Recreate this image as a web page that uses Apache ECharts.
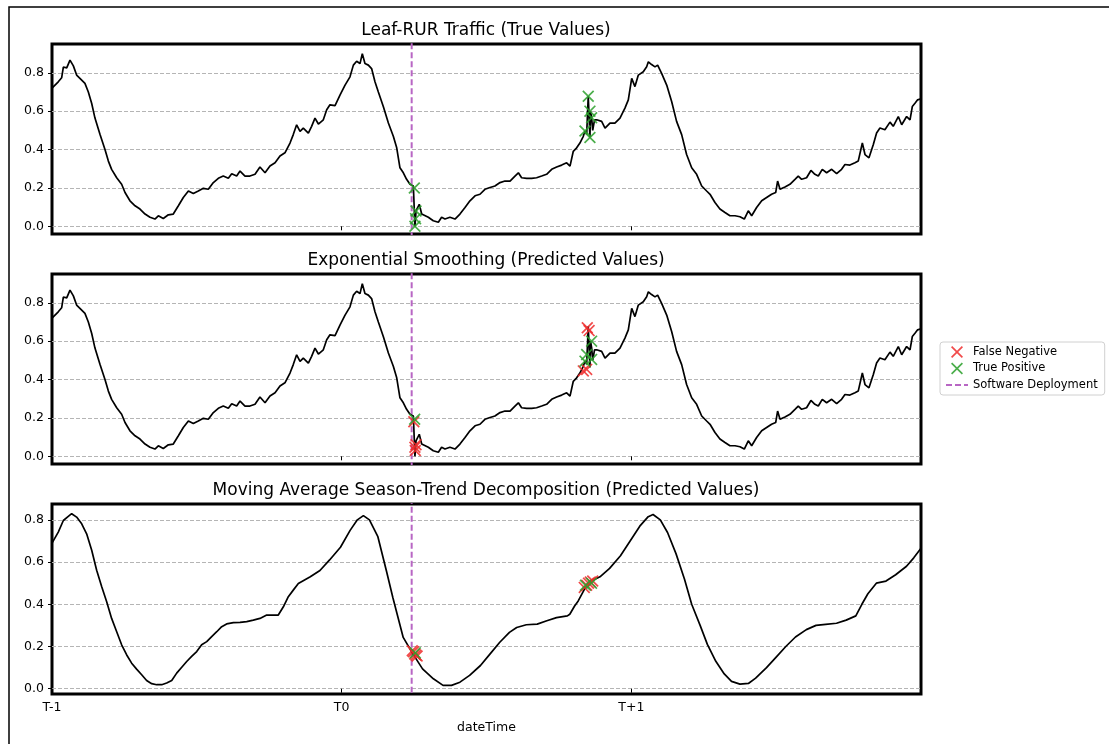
<!DOCTYPE html>
<html><head><meta charset="utf-8">
<script src="https://cdn.jsdelivr.net/npm/echarts@6/dist/echarts.min.js"></script>
<style>html,body{margin:0;padding:0;background:#fff}#c{width:1109px;height:744px}</style>
</head><body><div id="c"></div>
<script>
// ---------- data ----------
const panelTitles = ['Leaf-RUR Traffic (True Values)', 'Exponential Smoothing (Predicted Values)', 'Moving Average Season-Trend Decomposition (Predicted Values)'];
const xTickHours = [0, 24, 48];
const xTickLabels = ['T-1', 'T0', 'T+1'];
const yTicks = [0, 0.2, 0.4, 0.6, 0.8];
const deploymentHour = 29.8;
const legendNames = ['False Negative', 'True Positive', 'Software Deployment'];

// hours since T-1
const trueHours = [0,0.52,0.80,0.94,1.22,1.49,1.77,2.04,2.46,2.73,3.01,3.29,3.56,3.98,4.39,4.67,4.94,5.36,5.77,6.05,6.46,6.88,7.29,7.71,8.12,8.53,8.81,9.22,9.64,10.05,10.47,10.88,11.3,11.71,12.12,12.54,12.95,13.37,13.78,14.19,14.61,14.89,15.3,15.58,15.99,16.4,16.82,17.23,17.65,18.06,18.48,18.89,19.3,19.72,19.99,20.27,20.55,20.82,21.24,21.51,21.79,22.07,22.48,22.76,23.03,23.45,23.86,24.28,24.69,24.97,25.24,25.52,25.71,25.93,26.21,26.48,26.76,27.04,27.45,27.87,28.28,28.56,28.83,29.11,29.38,29.66,29.94,30.02,30.07,30.12,30.16,30.43,30.63,30.76,31.18,31.59,32.01,32.28,32.56,32.97,33.39,33.8,34.22,34.63,35.05,35.46,35.87,36.29,36.7,37.12,37.53,37.95,38.36,38.64,38.91,39.33,39.74,40.15,40.57,40.98,41.4,41.81,42.23,42.64,42.92,43.19,43.47,43.74,44.02,44.16,44.3,44.43,44.57,44.62,44.71,44.8,44.95,45.13,45.54,45.82,46.23,46.64,47.06,47.47,47.75,48.03,48.3,48.58,48.99,49.27,49.41,49.68,49.96,50.18,50.51,50.93,51.34,51.75,52.17,52.58,53.0,53.41,53.83,54.24,54.52,54.93,55.34,55.76,56.17,56.59,57.0,57.36,57.69,57.97,58.38,58.8,59.21,59.62,59.96,60.12,60.32,60.73,61.14,61.56,61.83,62.11,62.52,62.88,63.21,63.49,63.82,64.18,64.6,65.01,65.42,65.7,66.11,66.53,66.8,67.14,67.36,67.69,68.05,68.32,68.6,69.01,69.43,69.7,70.12,70.4,70.81,71.09,71.28,71.5,71.72,72.0];
const trueValues = [0.72,0.753,0.774,0.83,0.826,0.866,0.836,0.788,0.762,0.745,0.70,0.64,0.564,0.478,0.40,0.34,0.297,0.253,0.219,0.176,0.133,0.107,0.09,0.064,0.047,0.038,0.055,0.041,0.06,0.064,0.107,0.15,0.184,0.171,0.184,0.198,0.193,0.228,0.25,0.262,0.25,0.274,0.262,0.288,0.262,0.262,0.271,0.309,0.279,0.314,0.331,0.366,0.383,0.434,0.478,0.529,0.495,0.512,0.486,0.521,0.564,0.533,0.555,0.607,0.633,0.629,0.684,0.736,0.779,0.84,0.86,0.848,0.90,0.848,0.84,0.822,0.753,0.70,0.624,0.538,0.469,0.409,0.305,0.279,0.245,0.219,0.21,0.20,0.0,0.04,0.08,0.115,0.064,0.055,0.047,0.029,0.021,0.047,0.038,0.047,0.038,0.064,0.098,0.133,0.159,0.167,0.193,0.202,0.21,0.228,0.236,0.236,0.262,0.279,0.253,0.25,0.25,0.253,0.262,0.271,0.297,0.309,0.319,0.331,0.314,0.391,0.409,0.434,0.469,0.497,0.48,0.678,0.463,0.60,0.566,0.50,0.555,0.555,0.547,0.512,0.538,0.538,0.564,0.616,0.659,0.771,0.728,0.788,0.805,0.831,0.857,0.843,0.831,0.84,0.797,0.736,0.65,0.547,0.478,0.374,0.305,0.271,0.21,0.184,0.167,0.124,0.09,0.072,0.055,0.055,0.05,0.038,0.081,0.055,0.098,0.133,0.15,0.167,0.176,0.236,0.193,0.205,0.219,0.245,0.262,0.245,0.253,0.291,0.271,0.262,0.297,0.279,0.297,0.274,0.297,0.322,0.319,0.331,0.34,0.434,0.374,0.357,0.426,0.486,0.512,0.503,0.543,0.521,0.572,0.529,0.572,0.555,0.624,0.641,0.659,0.665];

// exponential smoothing prediction: visually identical to the true trace
const esHours = trueHours.slice();
const esValues = trueValues.slice();

const mstlHours = [0,0.52,0.94,1.35,1.63,2.04,2.46,2.87,3.29,3.7,4.12,4.53,4.94,5.36,5.77,6.19,6.6,7.01,7.43,7.84,8.26,8.67,9.09,9.5,9.92,10.33,10.75,11.16,11.57,11.99,12.4,12.82,13.23,13.65,14.06,14.47,15.03,15.58,16.13,16.68,17.23,17.79,18.34,18.75,19.17,19.58,19.99,20.41,21.4,22.2,23.0,23.9,24.7,25.3,25.8,26.3,27.0,27.7,28.25,29.1,29.9,30.7,31.6,32.4,33.1,33.8,34.6,35.5,36.3,37.1,37.9,38.5,39.3,40.2,41.0,41.8,42.7,42.9,43.3,43.6,44.2,44.7,45.4,46.2,47.1,47.9,48.7,49.4,49.8,50.4,51.0,51.7,52.4,53.0,53.7,54.3,55.0,55.7,56.3,57.0,57.7,58.3,59.2,60.0,60.8,61.6,62.5,63.3,64.1,65.0,65.8,66.6,67.1,67.6,68.3,69.1,69.9,70.8,71.4,72.0];
const mstlValues = [0.69,0.742,0.797,0.816,0.829,0.813,0.781,0.734,0.656,0.561,0.483,0.412,0.333,0.27,0.208,0.16,0.121,0.093,0.066,0.039,0.024,0.019,0.019,0.027,0.039,0.074,0.102,0.129,0.153,0.176,0.208,0.223,0.247,0.27,0.294,0.307,0.313,0.314,0.318,0.325,0.333,0.349,0.349,0.349,0.388,0.436,0.467,0.498,0.53,0.56,0.61,0.67,0.75,0.80,0.82,0.80,0.72,0.56,0.43,0.243,0.165,0.094,0.047,0.016,0.016,0.031,0.063,0.11,0.165,0.22,0.267,0.29,0.303,0.306,0.322,0.337,0.345,0.353,0.392,0.416,0.48,0.51,0.53,0.57,0.63,0.70,0.77,0.815,0.825,0.80,0.74,0.64,0.52,0.40,0.30,0.21,0.13,0.07,0.035,0.022,0.025,0.05,0.10,0.15,0.20,0.245,0.28,0.30,0.305,0.31,0.325,0.345,0.40,0.45,0.50,0.51,0.54,0.58,0.62,0.665];

// anomaly markers [hour, value]
const trueTP = [[30.02,0.20],[30.16,0.08],[30.12,0.04],[30.07,0.0],[44.16,0.497],[44.43,0.678],[44.57,0.60],[44.57,0.463],[44.71,0.566]];
const esFN = [[29.98,0.18],[30.07,0.047],[30.16,0.06],[30.1,0.03],[44.35,0.67],[44.5,0.655],[44.3,0.453],[44.02,0.445]];
const esTP = [[30.05,0.193],[44.71,0.60],[44.3,0.53],[44.16,0.496],[44.71,0.505]];
const mstlFN = [[29.85,0.18],[29.95,0.175],[30.05,0.165],[30.15,0.16],[30.25,0.155],[44.1,0.48],[44.3,0.49],[44.45,0.50],[44.6,0.505],[44.8,0.51]];
const mstlTP = [[30.1,0.17],[44.2,0.49],[44.7,0.5]];

// ---------- chart ----------
const zip = (xs, ys) => xs.map((x, i) => [x, ys[i]]);
const lines = [zip(trueHours, trueValues), zip(esHours, esValues), zip(mstlHours, mstlValues)];
const fnSets = [null, esFN, mstlFN];
const tpSets = [trueTP, esTP, mstlTP];

const FONT = 'DejaVu Sans';
const RED = '#ee2a2a', GREEN = '#2ca02c', PURPLE = '#b866c4';
const XPATH = 'path://M0,1L1,0L5,4L9,0L10,1L6,5L10,9L9,10L5,6L1,10L0,9L4,5Z';
const gridTops = [44, 274, 504];
const yRanges = [[-0.04, 0.95], [-0.04, 0.95], [-0.025, 0.875]];
const titleTops = [22, 252, 482];

const grids = [], xAxes = [], yAxes = [], series = [], titles = [];
for (let i = 0; i < 3; i++) {
  grids.push({left: 52, width: 869, top: gridTops[i], height: 190, show: true, borderColor: '#000', borderWidth: 3, backgroundColor: 'transparent', containLabel: false});
  titles.push({text: panelTitles[i], left: 486, top: titleTops[i], textAlign: 'center', padding: 0,
    textStyle: {fontFamily: FONT, fontSize: 17, fontWeight: 'normal', color: '#000'}});
  xAxes.push({type: 'value', gridIndex: i, min: 0, max: 72,
    axisLine: {show: false},
    axisTick: {show: true, length: 4, customValues: xTickHours, lineStyle: {color: '#000', width: 1}},
    axisLabel: {show: i === 2, customValues: xTickHours, margin: 7, fontFamily: FONT, fontSize: 12.5, color: '#000',
      formatter: v => xTickLabels[xTickHours.indexOf(v)] || ''},
    splitLine: {show: false},
    name: i === 2 ? 'dateTime' : '', nameLocation: 'middle', nameGap: 27,
    nameTextStyle: {fontFamily: FONT, fontSize: 12.5, color: '#000'}
  });
  yAxes.push({type: 'value', gridIndex: i, min: yRanges[i][0], max: yRanges[i][1],
    axisLine: {show: false},
    axisTick: {show: true, length: 4, customValues: yTicks, lineStyle: {color: '#000', width: 1}},
    axisLabel: {customValues: yTicks, margin: 8, fontFamily: FONT, fontSize: 12.5, color: '#000', formatter: v => v.toFixed(1)},
    splitLine: {show: true, lineStyle: {color: '#b5b5b5', width: 1, type: [4, 2]}}
  });
  series.push({type: 'line', name: 'value' + i, xAxisIndex: i, yAxisIndex: i, data: lines[i], showSymbol: false, symbol: 'none',
    lineStyle: {color: '#000', width: 1.7}, z: 3, animation: false});
  series.push({type: 'line', name: 'Software Deployment', xAxisIndex: i, yAxisIndex: i,
    data: [[deploymentHour, -1], [deploymentHour, 2]], symbol: 'none', showSymbol: false,
    lineStyle: {color: PURPLE, width: 2, type: [6, 3]}, itemStyle: {color: PURPLE}, z: 2, animation: false});
  if (fnSets[i]) series.push({type: 'scatter', name: 'False Negative', xAxisIndex: i, yAxisIndex: i, data: fnSets[i],
    symbol: XPATH, symbolSize: 12, itemStyle: {color: RED, opacity: 0.85}, z: 4, animation: false});
  series.push({type: 'scatter', name: 'True Positive', xAxisIndex: i, yAxisIndex: i, data: tpSets[i],
    symbol: XPATH, symbolSize: 12, itemStyle: {color: GREEN, opacity: 0.85}, z: 4, animation: false});
}

const chart = echarts.init(document.getElementById('c'), null, {renderer: 'canvas'});
chart.setOption({
  animation: false,
  backgroundColor: '#fff',
  title: titles,
  grid: grids, xAxis: xAxes, yAxis: yAxes, series: series,
  legend: {data: [legendNames[0], legendNames[1], {name: legendNames[2], itemStyle: {opacity: 0}}],
    orient: 'vertical', left: 940, top: 342, itemWidth: 22, itemHeight: 12, itemGap: 4.5,
    padding: [4, 7, 4, 5], borderColor: '#d0d0d0', borderWidth: 1, borderRadius: 3, backgroundColor: '#fff',
    textStyle: {fontFamily: FONT, fontSize: 11.5, color: '#000'}, selectedMode: false},
  graphic: [{type: 'rect', shape: {x: 9, y: 7, width: 1300, height: 900}, style: {fill: 'none', stroke: '#000', lineWidth: 1.5}, z: -10, silent: true}]
});
</script></body></html>
